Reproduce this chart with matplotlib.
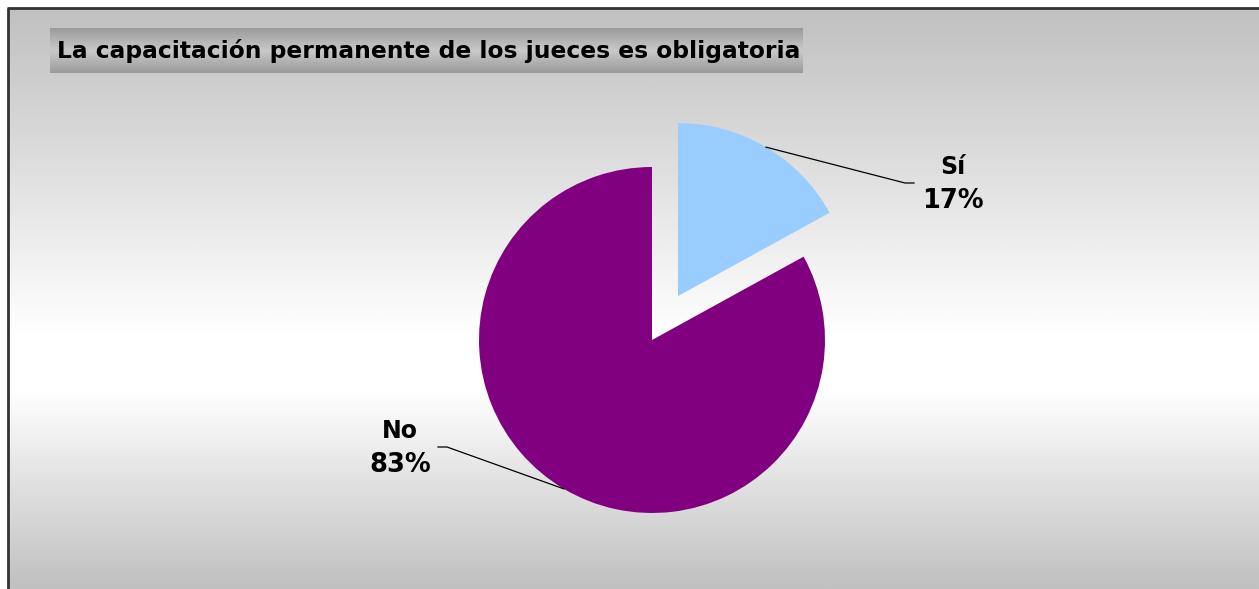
import numpy as np
import matplotlib
matplotlib.use("Agg")
import matplotlib.pyplot as plt
from matplotlib.colors import LinearSegmentedColormap

title = "La capacitación permanente de los jueces es obligatoria"
categories = ["Sí", "No"]
values = [17, 83]
colors = ["#99ccff", "#800080"]

W, H = 1259, 589
fig = plt.figure(figsize=(W / 100, H / 100), dpi=100)
fig.patch.set_facecolor("white")
ax = fig.add_axes([0, 0, 1, 1])
ax.set_xlim(0, W)
ax.set_ylim(0, H)
ax.axis("off")

def py(y):
    return H - y

# background gradient (gray top/bottom, white middle)
bg = LinearSegmentedColormap.from_list("bg", [(0, "#c0c0c0"), (0.56, "#ffffff"), (0.66, "#ffffff"), (1, "#c0c0c0")])
grad = np.linspace(0, 1, 400).reshape(-1, 1)
ax.imshow(grad, cmap=bg, aspect="auto", extent=(8, W, py(H), py(8)), origin="upper", zorder=0)
ax.plot([8, 8], [py(H), py(8)], color="#333333", lw=2, zorder=5, solid_capstyle="butt")
ax.plot([7, W], [py(8), py(8)], color="#333333", lw=2, zorder=5, solid_capstyle="butt")

# title box
tb = LinearSegmentedColormap.from_list("tb", [(0, "#9a9a9a"), (0.5, "#c9c9c9"), (1, "#9a9a9a")])
ax.imshow(grad, cmap=tb, aspect="auto", extent=(50, 803, py(73), py(28)), origin="upper", zorder=1)
ax.text(57, py(51), title, fontsize=16.8, fontweight="bold", color="black",
        ha="left", va="center", zorder=6)

# pie
cx, cy, R = 652, 340, 173
explode = [0.295 * R, 0]
wedges, _ = ax.pie(values, colors=colors, startangle=90, counterclock=False,
                   explode=explode, radius=R, center=(cx, py(cy)),
                   wedgeprops=dict(linewidth=0), frame=False)
ax.set_xlim(0, W)
ax.set_ylim(0, H)
ax.set_aspect("auto")
for w in wedges:
    w.set_zorder(3)

# labels with leader lines
label_pos = [(953, 167), (400, 431)]
elbow = [(905, 183, 914), (447, 447, 438)]
for w, cat, v, (lx, ly), (ex, ey, hx) in zip(wedges, categories, values, label_pos, elbow):
    th = np.deg2rad((w.theta1 + w.theta2) / 2)
    wcx, wcy = w.center
    sx = wcx + w.r * np.cos(th)
    sy = wcy + w.r * np.sin(th)
    ax.plot([sx, ex, hx], [sy, py(ey), py(ey)], color="black", lw=0.9, zorder=4)
    ax.text(lx, py(ly), cat, fontsize=17, fontweight="bold", ha="center",
            va="center", zorder=6)
    ax.text(lx, py(ly + 34), f"{v}%", fontsize=18.5, fontweight="bold", ha="center",
            va="center", zorder=6)

fig.savefig("out.png", dpi=100)
